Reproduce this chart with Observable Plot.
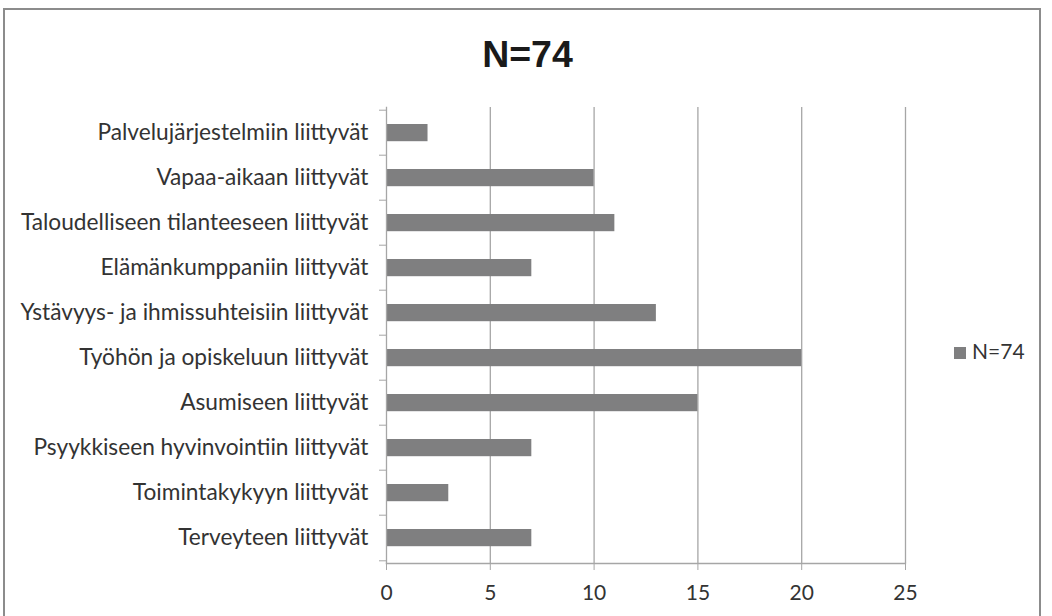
<!DOCTYPE html>
<html><head><meta charset="utf-8">
<script src="https://cdn.jsdelivr.net/npm/d3@7"></script>
<script src="https://cdn.jsdelivr.net/npm/@observablehq/plot@0.6"></script>
<style>
html,body{margin:0;padding:0;background:#fff;}
#wrap{position:relative;width:1052px;height:616px;overflow:hidden;font-family:Lato,sans-serif;}
#frame{position:absolute;left:3px;top:8px;width:1038px;height:640px;border:2px solid #8c8c8c;box-sizing:border-box;}
#title{position:absolute;left:0;width:1055px;top:33px;text-align:center;font-family:"Liberation Sans",Arial,sans-serif;font-weight:bold;font-size:37.5px;line-height:normal;color:#1a1a1a;}
#legsw{position:absolute;left:954px;top:347px;width:12px;height:12px;background:#7f7f80;}
#legtext{position:absolute;left:972px;top:338px;font-size:21px;line-height:normal;color:#333;}
#chart{position:absolute;left:0;top:0;}
</style></head>
<body>
<div id="wrap">
<div id="frame"></div>
<div id="chart"></div>
<div id="title"></div>
<div id="legsw"></div><div id="legtext"></div>
</div>
<script>
const categories = [
  "Palvelujärjestelmiin liittyvät",
  "Vapaa-aikaan liittyvät",
  "Taloudelliseen tilanteeseen liittyvät",
  "Elämänkumppaniin liittyvät",
  "Ystävyys- ja ihmissuhteisiin liittyvät",
  "Työhön ja opiskeluun liittyvät",
  "Asumiseen liittyvät",
  "Psyykkiseen hyvinvointiin liittyvät",
  "Toimintakykyyn liittyvät",
  "Terveyteen liittyvät"
];
const values = [2, 10, 11, 7, 13, 20, 15, 7, 3, 7];
const xTicks = [0, 5, 10, 15, 20, 25];
const seriesName = "N=74";

const data = categories.map((c, i) => ({category: c, value: values[i]}));
const W = 1052, H = 616, mL = 386, mR = 147, mT = 107, mB = 53;
const band = (H - mT - mB) / categories.length;

document.getElementById("legtext").textContent = seriesName;
document.getElementById("title").textContent = seriesName;

const plot = Plot.plot({
  width: W, height: H,
  marginLeft: mL, marginRight: mR, marginTop: mT, marginBottom: mB,
  style: {fontFamily: "Lato, sans-serif", color: "#333", background: "transparent"},
  x: {domain: [0, 25], ticks: xTicks},
  y: {domain: categories, padding: 0},
  marks: [
    Plot.ruleX(xTicks.slice(1), {stroke: "#a6a6a6", strokeWidth: 1.3}),
    Plot.barX(data, {y: "category", x: "value", fill: "#7f7f80", insetTop: 14, insetBottom: 13.8}),
    Plot.frame({anchor: "left", stroke: "#a6a6a6", strokeWidth: 1.3}),
    Plot.frame({anchor: "bottom", stroke: "#a6a6a6", strokeWidth: 1.3}),
    Plot.axisY({tickSize: 0, tickPadding: 18, label: null, fill: "#333", fontSize: 22.7}),
    Plot.axisY({tickSize: 7, tickFormat: () => "", label: null, dy: -band / 2, stroke: "#a6a6a6"}),
    Plot.axisY({ticks: [categories[categories.length - 1]], tickSize: 7, tickFormat: () => "", label: null, dy: band / 2, stroke: "#a6a6a6"}),
    Plot.axisX({ticks: xTicks, tickSize: 7, tickPadding: 15, label: null, stroke: "#a6a6a6", fill: "#333", fontSize: 21})
  ]
});
document.getElementById("chart").appendChild(plot);
</script>
</body></html>
